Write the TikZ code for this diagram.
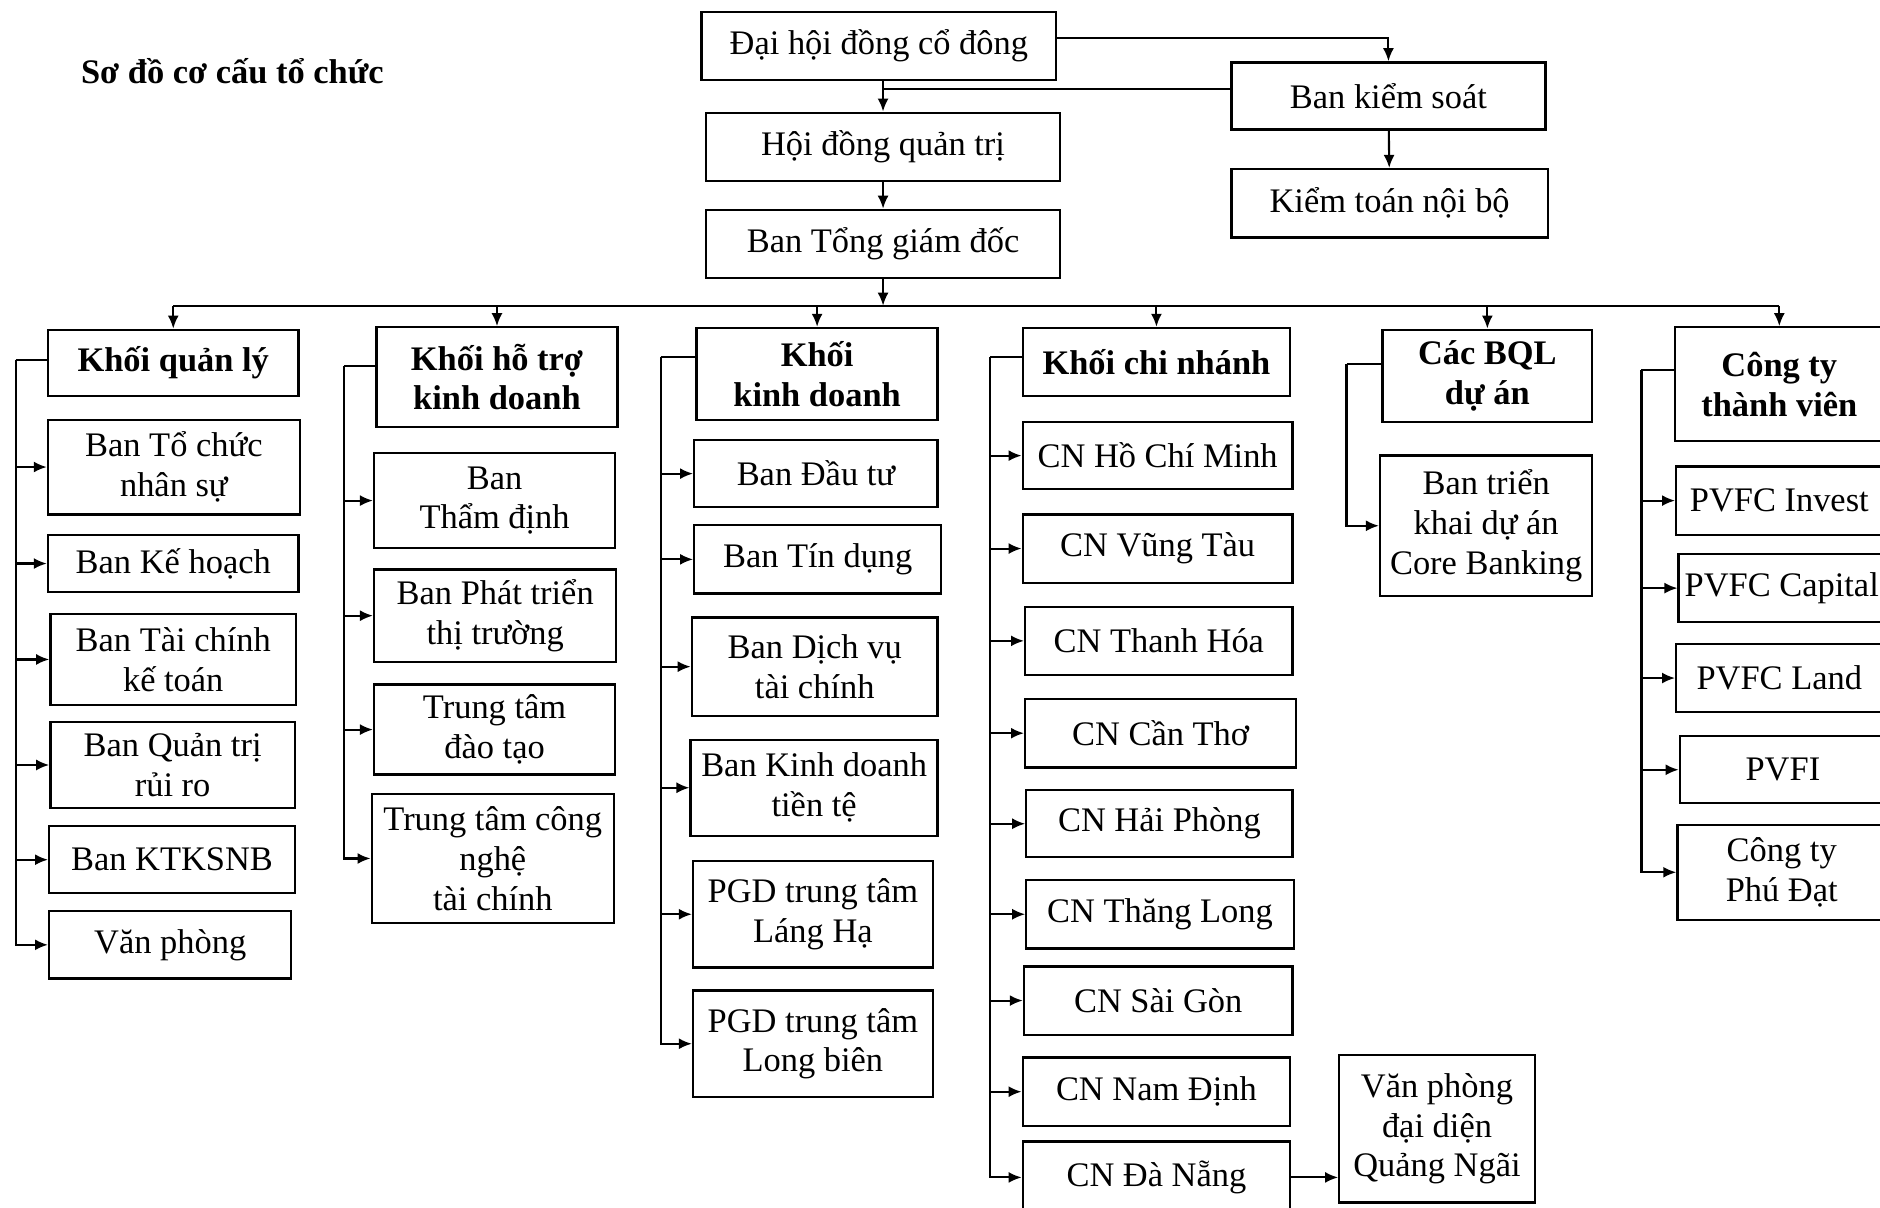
\documentclass[tikz,border=0pt]{standalone}
\usepackage{fontspec}
\setmainfont{Liberation Serif}
\usetikzlibrary{arrows.meta,positioning,calc}
\tikzset{
  orgbox/.style={draw=black,line width=0.65pt,inner sep=0pt,align=center,
    font=\fontsize{9.8pt}{11.3pt}\selectfont},
  headbox/.style={orgbox,font=\fontsize{9.8pt}{11.3pt}\selectfont\bfseries},
  boxsize/.style 2 args={minimum width=#1*0.012cm,minimum height=#2*0.012cm},
  orgarrow/.style={-{Latex[length=1.3mm,width=1.1mm]},line width=0.6pt},
  orgline/.style={line width=0.6pt},
}
\begin{document}
\begin{tikzpicture}[x=0.012cm,y=-0.012cm]
  \useasboundingbox (0,0) rectangle (1568,1007);
  \clip (0,0) rectangle (1568,1007);
  \node[anchor=west,inner sep=0pt,font=\fontsize{9.8pt}{12pt}\selectfont\bfseries] (title) at (67,59) {Sơ đồ cơ cấu tổ chức};
  % top of the chart
  \node[orgbox,boxsize={296}{57}] (dhcd) at (733,38.5) {Đại hội đồng cổ đông};
  \node[orgbox,boxsize={262}{56}] (bks) at (1158,80) {Ban kiểm soát};
  \node[orgbox,boxsize={264}{57}] (ktnb) at (1159,169.5) {Kiểm toán nội bộ};
  \node[orgbox,boxsize={295}{57}] (hdqt) at (736.5,122.5) {Hội đồng quản trị};
  \node[orgbox,boxsize={295}{57}] (tgd) at (736.5,203.5) {Ban Tổng giám đốc};
  \draw[orgarrow] ($(dhcd.east)+(0,-7)$) -| (bks.north);
  \draw[orgarrow] (hdqt.north |- dhcd.south) -- (hdqt.north);
  \coordinate (bksl) at ($(bks.west)+(0,-6)$);
  \draw[orgline] (bksl) -- (bksl -| hdqt.north);
  \draw[orgarrow] (bks) -- (ktnb);
  \draw[orgarrow] (hdqt) -- (tgd);
  % blocks
  \node[headbox,boxsize={209}{55}] (kql) at (144.5,302.5) {Khối quản lý};
  \node[headbox,boxsize={201}{83}] (kht) at (414.5,314.5) {Khối hỗ trợ\\kinh doanh};
  \node[headbox,boxsize={201}{77}] (kkd) at (681.5,312) {Khối\\kinh doanh};
  \node[headbox,boxsize={223}{57}] (kcn) at (964.5,302) {Khối chi nhánh};
  \node[headbox,boxsize={175}{77}] (bql) at (1240.5,313.5) {Các BQL\\dự án};
  \node[headbox,boxsize={174}{95}] (kct) at (1484,320.5) {Công ty\\thành viên};
  \coordinate (bus) at ($(tgd.south)+(0,22)$);
  \draw[orgarrow] (tgd.south) -- (bus);
  \draw[orgline] (bus -| kql.north) -- (bus -| kct.north);
  \draw[orgarrow] (bus -| kql.north) -- (kql.north);
  \draw[orgarrow] (bus -| kht.north) -- (kht.north);
  \draw[orgarrow] (bus -| kkd.north) -- (kkd.north);
  \draw[orgarrow] (bus -| kcn.north) -- (kcn.north);
  \draw[orgarrow] (bus -| bql.north) -- (bql.north);
  \draw[orgarrow] (bus -| kct.north) -- (kct.north);
  % Khoi quan ly
  \node[orgbox,boxsize={210}{79}] (ql1) at (145,389.5) {Ban Tổ chức\\nhân sự};
  \node[orgbox,boxsize={209}{48}] (ql2) at (144.5,470) {Ban Kế hoạch};
  \node[orgbox,boxsize={205}{76}] (ql3) at (144.5,550) {Ban Tài chính\\kế toán};
  \node[orgbox,boxsize={204}{72}] (ql4) at (144,638) {Ban Quản trị\\rủi ro};
  \node[orgbox,boxsize={205}{56}] (ql5) at (143.5,717) {Ban KTKSNB};
  \node[orgbox,boxsize={202}{56}] (ql6) at (142,788) {Văn phòng};
  \coordinate (s1) at ($(kql.west)+(-26,-2)$);
  \draw[orgline] (s1) -- (s1 -| kql.west);
  \draw[orgarrow] (s1) |- (ql1.west);
  \draw[orgarrow] (s1) |- (ql2.west);
  \draw[orgarrow] (s1) |- (ql3.west);
  \draw[orgarrow] (s1) |- (ql4.west);
  \draw[orgarrow] (s1) |- (ql5.west);
  \draw[orgarrow] (s1) |- (ql6.west);
  % Khoi ho tro kinh doanh
  \node[orgbox,boxsize={201}{79}] (ht1) at (412.5,417.5) {Ban\\Thẩm định};
  \node[orgbox,boxsize={202}{77}] (ht2) at (413,513.5) {Ban Phát triển\\thị trường};
  \node[orgbox,boxsize={201}{75}] (ht3) at (412.5,608.5) {Trung tâm\\đào tạo};
  \node[orgbox,boxsize={202}{108}] (ht4) at (411,716) {Trung tâm công\\nghệ\\tài chính};
  \coordinate (s2) at ($(kht.west)+(-26,-9)$);
  \draw[orgline] (s2) -- (s2 -| kht.west);
  \draw[orgarrow] (s2) |- (ht1.west);
  \draw[orgarrow] (s2) |- (ht2.west);
  \draw[orgarrow] (s2) |- (ht3.west);
  \draw[orgarrow] (s2) |- (ht4.west);
  % Khoi kinh doanh
  \node[orgbox,boxsize={203}{56}] (kd1) at (680.5,395) {Ban Đầu tư};
  \node[orgbox,boxsize={206}{57}] (kd2) at (682,466.5) {Ban Tín dụng};
  \node[orgbox,boxsize={205}{82}] (kd3) at (679.5,556) {Ban Dịch vụ\\tài chính};
  \node[orgbox,boxsize={206}{80}] (kd4) at (679,657) {Ban Kinh doanh\\tiền tệ};
  \node[orgbox,boxsize={200}{89}] (kd5) at (678,762.5) {PGD trung tâm\\Láng Hạ};
  \node[orgbox,boxsize={200}{89}] (kd6) at (678,870.5) {PGD trung tâm\\Long biên};
  \coordinate (s3) at ($(kkd.west)+(-29,-14)$);
  \draw[orgline] (s3) -- (s3 -| kkd.west);
  \draw[orgarrow] (s3) |- (kd1.west);
  \draw[orgarrow] (s3) |- (kd2.west);
  \draw[orgarrow] (s3) |- (kd3.west);
  \draw[orgarrow] (s3) |- (kd4.west);
  \draw[orgarrow] (s3) |- (kd5.west);
  \draw[orgarrow] (s3) |- (kd6.west);
  % Khoi chi nhanh
  \node[orgbox,boxsize={225}{56}] (cn1) at (965.5,380) {CN Hồ Chí Minh};
  \node[orgbox,boxsize={225}{57}] (cn2) at (965.5,457.5) {CN Vũng Tàu};
  \node[orgbox,boxsize={223}{57}] (cn3) at (966.5,534.5) {CN Thanh Hóa};
  \node[orgbox,boxsize={226}{57}] (cn4) at (968,611.5) {CN Cần Thơ};
  \node[orgbox,boxsize={222}{56}] (cn5) at (967,687) {CN Hải Phòng};
  \node[orgbox,boxsize={223}{57}] (cn6) at (967.5,762.5) {CN Thăng Long};
  \node[orgbox,boxsize={224}{57}] (cn7) at (966,834.5) {CN Sài Gòn};
  \node[orgbox,boxsize={223}{57}] (cn8) at (964.5,910.5) {CN Nam Định};
  \node[orgbox,boxsize={223}{60}] (cn9) at (964.5,982) {CN Đà Nẵng};
  \node[orgbox,boxsize={163}{123}] (vpqn) at (1198.5,941.5) {Văn phòng\\đại diện\\Quảng Ngãi};
  \coordinate (s4) at ($(kcn.west)+(-26,-4)$);
  \draw[orgline] (s4) -- (s4 -| kcn.west);
  \draw[orgarrow] (s4) |- (cn1.west);
  \draw[orgarrow] (s4) |- (cn2.west);
  \draw[orgarrow] (s4) |- (cn3.west);
  \draw[orgarrow] (s4) |- (cn4.west);
  \draw[orgarrow] (s4) |- (cn5.west);
  \draw[orgarrow] (s4) |- (cn6.west);
  \draw[orgarrow] (s4) |- (cn7.west);
  \draw[orgarrow] (s4) |- (cn8.west);
  \draw[orgarrow] (s4) |- (cn9.west);
  \draw[orgarrow] (cn9.east) -- (cn9.east -| vpqn.west);
  % Cac BQL du an
  \node[orgbox,boxsize={177}{117}] (bq1) at (1239.5,438.5) {Ban triển\\khai dự án\\Core Banking};
  \coordinate (s5) at ($(bql.west)+(-29,-10)$);
  \draw[orgline] (s5) -- (s5 -| bql.west);
  \draw[orgarrow] (s5) |- (bq1.west);
  % Cong ty thanh vien
  \node[orgbox,boxsize={172}{57}] (ct1) at (1484,417.5) {PVFC Invest};
  \node[orgbox,boxsize={172}{57}] (ct2) at (1486,490.5) {PVFC Capital};
  \node[orgbox,boxsize={172}{57}] (ct3) at (1484,565.5) {PVFC Land};
  \node[orgbox,boxsize={172}{56}] (ct4) at (1487,642) {PVFI};
  \node[orgbox,boxsize={174}{79}] (ct5) at (1486,727.5) {Công ty\\Phú Đạt};
  \coordinate (s6) at ($(kct.west)+(-27,-12)$);
  \draw[orgline] (s6) -- (s6 -| kct.west);
  \draw[orgarrow] (s6) |- (ct1.west);
  \draw[orgarrow] (s6) |- (ct2.west);
  \draw[orgarrow] (s6) |- (ct3.west);
  \draw[orgarrow] (s6) |- (ct4.west);
  \draw[orgarrow] (s6) |- (ct5.west);
\end{tikzpicture}
\end{document}
